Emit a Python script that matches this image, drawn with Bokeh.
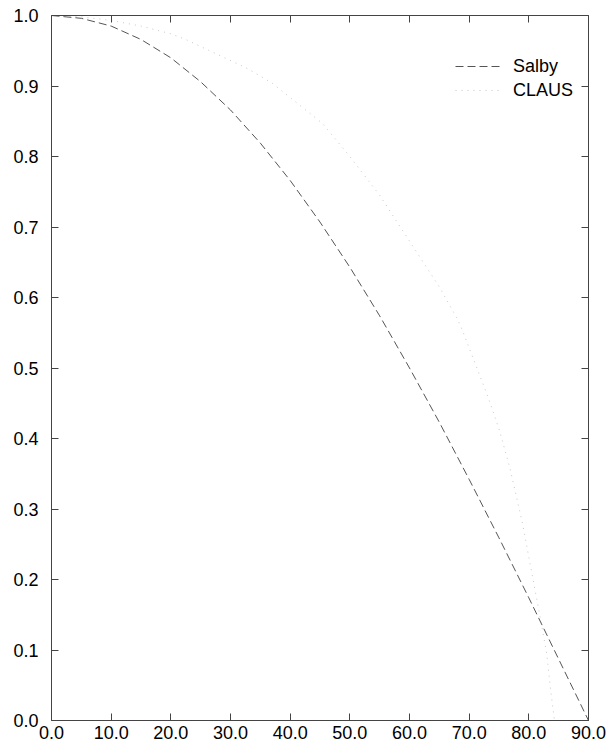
from bokeh.plotting import figure
from bokeh.models import Range1d, FixedTicker, NumeralTickFormatter, LinearAxis, Legend, LegendItem
from bokeh.embed import file_html
from bokeh.resources import INLINE

# Salby curve
salby_lat = [0, 5, 10, 15, 20, 25, 30, 35, 40, 45, 50, 55, 60, 65, 70, 75, 80, 85, 90]
salby_val = [1.0, 0.996, 0.985, 0.966, 0.94, 0.906, 0.866, 0.819, 0.766, 0.707,
             0.643, 0.574, 0.50, 0.423, 0.342, 0.259, 0.174, 0.087, 0.0]

# CLAUS curve
claus_lat = [0, 5, 10, 15, 20, 22.5, 27, 32.8, 37, 39.2, 45.4, 50, 55, 60, 65, 68, 68.7,
             73.2, 75.1, 76.8, 78.9, 81.6, 83, 83.6, 84.3]
claus_val = [1.0, 0.998, 0.993, 0.985, 0.974, 0.966, 0.948, 0.925, 0.904, 0.889, 0.847,
             0.80, 0.745, 0.68, 0.615, 0.57, 0.557, 0.458, 0.411, 0.359, 0.281, 0.16,
             0.095, 0.047, 0.0]

x_ticks = [0, 10, 20, 30, 40, 50, 60, 70, 80, 90]
y_ticks = [0.0, 0.1, 0.2, 0.3, 0.4, 0.5, 0.6, 0.7, 0.8, 0.9, 1.0]

FONT = "Liberation Sans"
AX = "#444444"

p = figure(width=607, height=749, output_backend="svg", toolbar_location=None,
           x_range=Range1d(0, 90), y_range=Range1d(0, 1),
           min_border_left=51, min_border_right=19, min_border_top=15, min_border_bottom=29)
p.grid.visible = False
p.outline_line_color = None
p.background_fill_color = "white"
p.border_fill_color = "white"

def style(ax, ticks, labels=True):
    ax.ticker = FixedTicker(ticks=ticks)
    ax.formatter = NumeralTickFormatter(format="0.0")
    ax.axis_line_color = AX
    ax.axis_line_width = 1
    ax.major_tick_line_color = AX
    ax.major_tick_in = 7
    ax.major_tick_out = 0
    ax.minor_tick_line_color = None
    ax.major_label_text_font = FONT
    ax.major_label_text_font_style = "normal"
    if labels:
        ax.major_label_text_color = "black"
        ax.major_label_text_font_size = "18px"
    else:
        ax.major_label_text_color = None
        ax.major_label_text_font_size = "1px"
        ax.major_label_standoff = 0

style(p.xaxis[0], x_ticks)
p.xaxis[0].major_label_standoff = 5
style(p.yaxis[0], y_ticks)
p.yaxis[0].major_label_standoff = 13

top = LinearAxis()
style(top, x_ticks, labels=False)
p.add_layout(top, "above")
right = LinearAxis()
style(right, y_ticks, labels=False)
p.add_layout(right, "right")

r_salby = p.line(salby_lat, salby_val, line_color="#555555", line_width=1, line_dash="8 4")
r_claus = p.line(claus_lat, claus_val, line_color="#999999", line_width=1, line_dash="1 5", line_alpha=0.55)

legend = Legend(items=[LegendItem(label="Salby", renderers=[r_salby]),
                       LegendItem(label="CLAUS", renderers=[r_claus])],
                location=(404, 618))
legend.border_line_color = None
legend.background_fill_alpha = 0
legend.padding = 0
legend.margin = 0
legend.spacing = 0
legend.glyph_width = 45
legend.glyph_height = 24
legend.label_height = 24
legend.label_standoff = 13
legend.label_text_font = FONT
legend.label_text_font_size = "18px"
legend.label_text_color = "black"
p.add_layout(legend, "center")

open("out.html", "w").write(file_html(p, INLINE))
